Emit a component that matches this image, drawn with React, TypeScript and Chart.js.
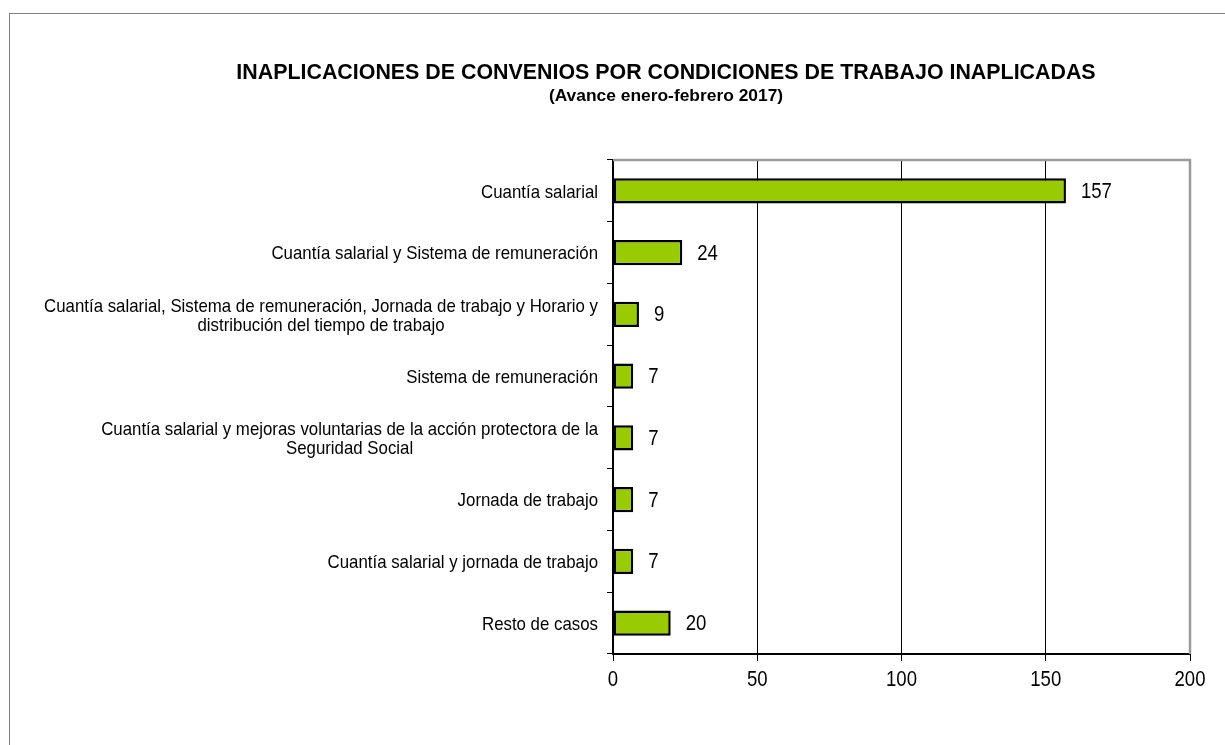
import React, { useEffect, useRef } from "react";
import { Chart, registerables } from "chart.js";

Chart.register(...registerables);

const categories: (string | string[])[] = [
  "Cuantía salarial",
  "Cuantía salarial y Sistema de remuneración",
  ["Cuantía salarial, Sistema de remuneración, Jornada de trabajo y Horario y", "distribución del tiempo de trabajo"],
  "Sistema de remuneración",
  ["Cuantía salarial y mejoras voluntarias de la acción protectora de la", "Seguridad Social"],
  "Jornada de trabajo",
  "Cuantía salarial y jornada de trabajo",
  "Resto de casos",
];
const values: number[] = [157, 24, 9, 7, 7, 7, 7, 20];
const xTicks: number[] = [0, 50, 100, 150, 200];

const TITLE = "INAPLICACIONES DE CONVENIOS POR CONDICIONES DE TRABAJO INAPLICADAS";
const SUBTITLE = "(Avance enero-febrero 2017)";

const SANS = "'Liberation Sans', Arial, sans-serif";

const PLOT_LEFT = 613;
const PAD_LEFT = 142;

function drawScaled(ctx: CanvasRenderingContext2D, text: string, x: number, y: number, align: CanvasTextAlign, sx: number) {
  ctx.save();
  ctx.translate(x, y);
  ctx.scale(sx, 1);
  ctx.textAlign = align;
  ctx.fillText(text, 0, 0);
  ctx.restore();
}

const labelsPlugin = {
  id: "customLabels",
  afterDraw(chart: any) {
    const { ctx } = chart;
    const yScale = chart.scales.y;
    const xScale = chart.scales.x;
    ctx.save();
    ctx.fillStyle = "#000";
    ctx.textBaseline = "middle";

    // category labels (condensed, block right-aligned, lines centered)
    const catSx = 0.886;
    ctx.font = `19px ${SANS}`;
    const lineH = 19;
    const rightEdge = PLOT_LEFT - 15;
    (chart.data.labels as any[]).forEach((lab, i) => {
      const lines: string[] = Array.isArray(lab) ? lab : [lab];
      const widest = Math.max(...lines.map((l) => ctx.measureText(l).width)) * catSx;
      const cx = rightEdge - widest / 2;
      const cy = yScale.getPixelForValue(i) + 1.5;
      const startY = cy - ((lines.length - 1) * lineH) / 2;
      lines.forEach((l, k) => drawScaled(ctx, l, cx, startY + k * lineH, "center", catSx));
    });

    // x tick labels
    const numSx = 0.845;
    ctx.font = `22px ${SANS}`;
    xTicks.forEach((v) => {
      drawScaled(ctx, String(v), xScale.getPixelForValue(v), xScale.top + 26, "center", numSx);
    });

    // value labels
    const meta = chart.getDatasetMeta(0);
    meta.data.forEach((bar: any, i: number) => {
      drawScaled(ctx, String(chart.data.datasets[0].data[i]), bar.x + 15, bar.y + 1, "left", numSx);
    });

    // gray top and right frame of the plot area
    const a = chart.chartArea;
    ctx.strokeStyle = "#9a9a9a";
    ctx.lineWidth = 2.5;
    ctx.beginPath();
    ctx.moveTo(a.left, a.top);
    ctx.lineTo(a.right, a.top);
    ctx.lineTo(a.right, a.bottom);
    ctx.stroke();
    ctx.restore();
  },
};

export default function App() {
  const ref = useRef<HTMLCanvasElement | null>(null);
  useEffect(() => {
    if (!ref.current) return;
    const chart = new Chart(ref.current, {
      type: "bar",
      data: {
        labels: categories as any,
        datasets: [
          {
            data: values,
            backgroundColor: "#99CC00",
            borderColor: "#000",
            borderWidth: 2.5,
            borderSkipped: false,
            categoryPercentage: 1,
            barPercentage: 0.41,
          },
        ],
      },
      options: {
        indexAxis: "y",
        animation: false,
        responsive: false,
        maintainAspectRatio: false,
        layout: { padding: { left: PAD_LEFT, right: 35, top: 0, bottom: 51 } },
        plugins: {
          legend: { display: false },
          tooltip: { enabled: false },
          title: {
            display: true,
            text: TITLE,
            color: "#000",
            font: { family: SANS, size: 21.4, weight: "bold", lineHeight: 1.2 },
            padding: { top: 60, bottom: 0 },
          },
          subtitle: {
            display: true,
            text: SUBTITLE,
            color: "#000",
            font: { family: SANS, size: 17.4, weight: "bold", lineHeight: 1.2 },
            padding: { top: 0, bottom: 53.4 },
          },
        },
        scales: {
          x: {
            type: "linear",
            min: 0,
            max: 200,
            afterBuildTicks: (scale: any) => {
              scale.ticks = xTicks.map((v) => ({ value: v }));
            },
            afterFit: (scale: any) => {
              scale.height = 40;
            },
            ticks: { display: false },
            grid: {
              color: (c: any) => (c.tick && c.tick.value === 200 ? "#9a9a9a" : "#000"),
              tickColor: "#000",
              lineWidth: 1,
              tickLength: 7,
            },
            border: { color: "#000", width: 2 },
          },
          y: {
            type: "category",
            offset: true,
            afterFit: (scale: any) => {
              scale.width = PLOT_LEFT - PAD_LEFT;
            },
            ticks: { display: false },
            grid: {
              offset: true,
              drawOnChartArea: false,
              drawTicks: true,
              tickLength: 6,
              color: "#000",
              tickColor: "#000",
            },
            border: { color: "#000", width: 2 },
          },
        },
      },
      plugins: [labelsPlugin],
    });
    return () => chart.destroy();
  }, []);

  return (
    <div
      style={{
        position: "fixed",
        left: 0,
        top: 0,
        width: 1225,
        height: 745,
        background: "#fff",
        overflow: "hidden",
      }}
    >
      <div
        style={{
          position: "absolute",
          left: 9,
          top: 13,
          width: 1300,
          height: 900,
          border: "1px solid #808080",
          boxSizing: "border-box",
        }}
      />
      <canvas ref={ref} width={1225} height={745} style={{ position: "absolute", left: 0, top: 0 }} />
    </div>
  );
}
